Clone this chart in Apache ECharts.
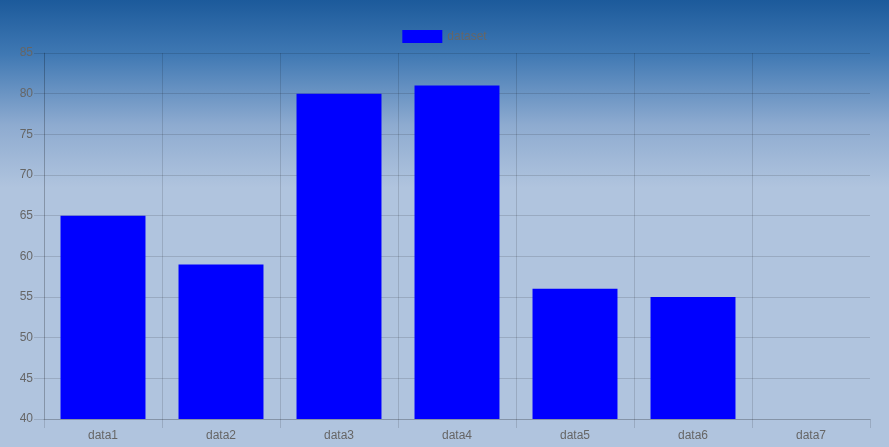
<!DOCTYPE html>
<html>
<head>
<meta charset="utf-8">
<script src="https://cdn.jsdelivr.net/npm/echarts@6/dist/echarts.min.js"></script>
<style>
html,body{margin:0;padding:0;width:889px;height:447px;overflow:hidden;}
#chart{width:889px;height:447px;}
</style>
</head>
<body>
<div id="chart"></div>
<script>
const categories = ['data1','data2','data3','data4','data5','data6','data7'];
const seriesName = 'dataset';
const values = [65, 59, 80, 81, 56, 55, 40];
const yTicks = {min: 40, max: 85, interval: 5};

const chart = echarts.init(document.getElementById('chart'), null, {renderer: 'canvas'});
const gridColor = 'rgba(0,0,0,0.13)';
const font = '"Liberation Sans", Arial, Helvetica, sans-serif';
const xSplitColors = categories.map(() => gridColor).concat(['rgba(0,0,0,0)']);
chart.setOption({
  animation: false,
  backgroundColor: {
    type: 'linear', x: 0, y: 0, x2: 0, y2: 1,
    colorStops: [
      {offset: 0, color: '#1c5a9b'},
      {offset: 0.12, color: '#3f78b3'},
      {offset: 0.28, color: '#8eabd0'},
      {offset: 0.42, color: '#b0c4de'},
      {offset: 1, color: '#b0c4de'}
    ]
  },
  textStyle: {fontFamily: font},
  legend: {
    top: 25,
    left: 'center',
    itemWidth: 40,
    itemHeight: 13,
    itemGap: 6,
    textStyle: {color: '#666', fontSize: 12, fontFamily: font},
    data: [{name: seriesName, icon: 'rect'}]
  },
  grid: {left: 44, right: 19, top: 53, bottom: 28, containLabel: false},
  xAxis: {
    type: 'category',
    data: categories,
    boundaryGap: true,
    axisLine: {show: true, lineStyle: {color: gridColor}},
    axisTick: {show: true, length: 9, lineStyle: {color: gridColor}},
    splitLine: {show: true, lineStyle: {color: xSplitColors}},
    axisLabel: {color: '#666', fontSize: 12, margin: 11, fontFamily: font}
  },
  yAxis: {
    type: 'value',
    min: yTicks.min,
    max: yTicks.max,
    interval: yTicks.interval,
    axisLine: {show: true, lineStyle: {color: gridColor}},
    axisTick: {show: true, length: 10, lineStyle: {color: gridColor}},
    splitLine: {show: true, lineStyle: {color: gridColor}},
    axisLabel: {color: '#666', fontSize: 12, margin: 11, fontFamily: font}
  },
  series: [{
    name: seriesName,
    type: 'bar',
    data: values,
    barCategoryGap: '28%',
    itemStyle: {color: '#0000ff'}
  }]
});
</script>
</body>
</html>
